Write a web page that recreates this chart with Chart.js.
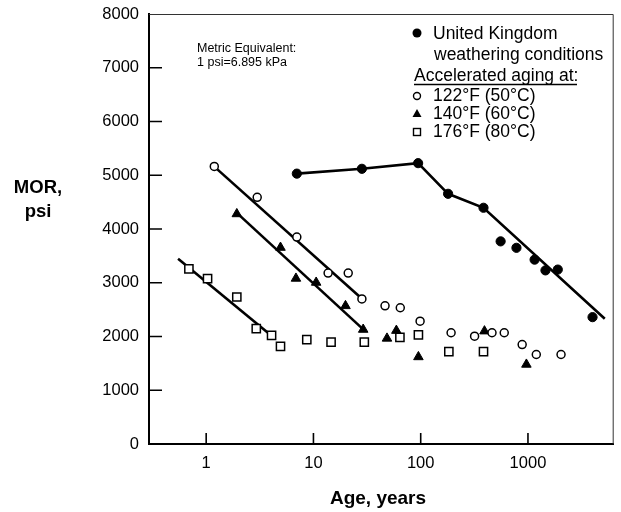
<!DOCTYPE html>
<html>
<head>
<meta charset="utf-8">
<script src="https://cdn.jsdelivr.net/npm/chart.js@4/dist/chart.umd.min.js"></script>
<style>
  html, body { margin: 0; padding: 0; background: #fff; }
  canvas { display: block; }
</style>
</head>
<body>
<canvas id="chart" width="621" height="512"></canvas>
<script>
const FONT = '"Liberation Sans", Arial, Helvetica, sans-serif';

// Axis ticks
const xTickValues = [1, 10, 100, 1000];
const yTickValues = [0, 1000, 2000, 3000, 4000, 5000, 6000, 7000, 8000];

// United Kingdom weathering conditions: age (years), MOR (psi)
const ukAge = [7.0, 28.3, 94.6, 180, 385, 556, 781, 1153, 1456, 1897, 4000];
const ukMor = [5030, 5120, 5225, 4655, 4395, 3770, 3650, 3430, 3230, 3245, 2360];

// Accelerated aging at 122°F (50°C)
const age122 = [1.19, 2.99, 7.0, 13.7, 21.1, 28.3, 46.5, 64.5, 98.7, 192, 318, 462, 601, 883, 1196, 2034];
const mor122 = [5165, 4590, 3850, 3180, 3180, 2700, 2570, 2535, 2285, 2070, 2005, 2070, 2070, 1850, 1665, 1665];

// Accelerated aging at 140°F (60°C)
const age140 = [1.93, 4.93, 6.87, 10.6, 19.9, 29.1, 48.5, 59.3, 95.2, 393, 967];
const mor140 = [4280, 3655, 3080, 3005, 2570, 2130, 1965, 2110, 1620, 2100, 1480];

// Accelerated aging at 176°F (80°C)
const age176 = [0.69, 1.03, 1.93, 2.93, 4.07, 4.93, 8.67, 14.6, 29.8, 64, 95.2, 183, 385];
const mor176 = [3260, 3075, 2735, 2145, 2020, 1815, 1940, 1895, 1895, 1985, 2030, 1720, 1720];

// Trend lines
const ukTrendAge = [7.0, 28.3, 94.6, 180, 385, 5200];
const ukTrendMor = [5030, 5120, 5225, 4655, 4395, 2330];
const fit122Age = [1.19, 27];
const fit122Mor = [5160, 2740];
const fit140Age = [1.93, 30];
const fit140Mor = [4300, 2110];
const fit176Age = [0.547, 4.4];
const fit176Mor = [3446, 1960];

const pts = (xs, ys) => xs.map((v, i) => ({ x: v, y: ys[i] }));

const markerBase = { showLine: false, borderColor: '#000', order: 0 };
const lineBase = { showLine: true, pointRadius: 0, borderColor: '#000', borderWidth: 2.6, fill: false, order: 1 };

// Framing, inward ticks, titles, note and key
const decor = {
  id: 'decor',
  afterDraw(chart) {
    const { ctx, chartArea: a, scales: { x, y } } = chart;
    ctx.save();
    ctx.fillStyle = '#000';

    // thin top and right frame
    ctx.lineWidth = 1;
    ctx.strokeStyle = '#333';
    ctx.beginPath();
    ctx.moveTo(a.left, a.top + 0.5);
    ctx.lineTo(a.right - 0.5, a.top + 0.5);
    ctx.lineTo(a.right - 0.5, a.bottom);
    ctx.stroke();

    // inward tick marks
    ctx.strokeStyle = '#000';
    ctx.lineWidth = 1.6;
    ctx.beginPath();
    yTickValues.forEach(v => {
      if (v <= 0 || v >= 8000) return;
      const py = y.getPixelForValue(v);
      ctx.moveTo(a.left, py);
      ctx.lineTo(a.left + 13, py);
    });
    xTickValues.forEach(v => {
      const px = x.getPixelForValue(v);
      ctx.moveTo(px, a.bottom);
      ctx.lineTo(px, a.bottom - 11);
    });
    ctx.stroke();

    // axis titles
    ctx.textAlign = 'center';
    ctx.textBaseline = 'middle';
    ctx.font = 'bold 18.5px ' + FONT;
    ctx.fillText('MOR,', 38, 188);
    ctx.fillText('psi', 38, 212);
    ctx.font = 'bold 19px ' + FONT;
    ctx.fillText('Age, years', 378, 499);

    // metric note
    ctx.textAlign = 'left';
    ctx.font = '12.5px ' + FONT;
    ctx.fillText('Metric Equivalent:', 197, 49);
    ctx.fillText('1 psi=6.895 kPa', 197, 63);

    // key
    const mx = 417, tx = 433;
    ctx.font = '17.5px ' + FONT;
    ctx.fillText('United Kingdom', tx, 34);
    ctx.fillText('weathering conditions', tx + 1, 55);
    ctx.fillText('Accelerated aging at:', 414, 76);
    ctx.fillText('122°F (50°C)', tx, 96);
    ctx.fillText('140°F (60°C)', tx, 114);
    ctx.fillText('176°F (80°C)', tx, 132);

    ctx.lineWidth = 1.5;
    ctx.beginPath();
    ctx.moveTo(414, 84.5);
    ctx.lineTo(577, 84.5);
    ctx.stroke();

    // key markers
    ctx.beginPath();
    ctx.arc(mx, 33, 4.5, 0, Math.PI * 2);
    ctx.fill();

    ctx.lineWidth = 1.4;
    ctx.beginPath();
    ctx.arc(mx, 96, 3.5, 0, Math.PI * 2);
    ctx.stroke();

    ctx.beginPath();
    ctx.moveTo(mx, 109);
    ctx.lineTo(mx + 4.5, 117);
    ctx.lineTo(mx - 4.5, 117);
    ctx.closePath();
    ctx.fill();

    ctx.strokeRect(mx - 3.5, 128.5, 7, 7);

    ctx.restore();
  }
};

new Chart(document.getElementById('chart'), {
  type: 'scatter',
  data: {
    datasets: [
      { ...markerBase, label: 'United Kingdom weathering conditions', data: pts(ukAge, ukMor),
        pointStyle: 'circle', pointRadius: 4.6, backgroundColor: '#000', borderWidth: 1 },
      { ...markerBase, label: '122°F (50°C)', data: pts(age122, mor122),
        pointStyle: 'circle', pointRadius: 4, backgroundColor: '#fff', borderWidth: 1.5 },
      { ...markerBase, label: '140°F (60°C)', data: pts(age140, mor140),
        pointStyle: 'triangle', pointRadius: 5.5, backgroundColor: '#000', borderWidth: 1 },
      { ...markerBase, label: '176°F (80°C)', data: pts(age176, mor176),
        pointStyle: 'rect', pointRadius: 5.8, backgroundColor: '#fff', borderWidth: 1.5 },
      { ...lineBase, label: 'UK trend', data: pts(ukTrendAge, ukTrendMor) },
      { ...lineBase, label: '122°F fit', data: pts(fit122Age, fit122Mor) },
      { ...lineBase, label: '140°F fit', data: pts(fit140Age, fit140Mor) },
      { ...lineBase, label: '176°F fit', data: pts(fit176Age, fit176Mor) }
    ]
  },
  options: {
    responsive: false,
    animation: false,
    events: [],
    layout: { padding: { left: 0, right: 1, top: 14, bottom: 0 } },
    plugins: { legend: { display: false }, tooltip: { enabled: false } },
    scales: {
      x: {
        type: 'logarithmic',
        min: 0.293,
        max: 6300,
        grid: { display: false },
        border: { display: true, color: '#000', width: 2 },
        afterBuildTicks: s => { s.ticks = xTickValues.map(v => ({ value: v })); },
        afterFit: s => { s.height = 68; s.paddingLeft = 0; s.paddingRight = 0; },
        ticks: {
          color: '#000',
          padding: 2,
          maxRotation: 0,
          font: { family: FONT, size: 16.5 },
          callback: v => String(v)
        }
      },
      y: {
        min: 0,
        max: 8000,
        grid: { display: false },
        border: { display: true, color: '#000', width: 2 },
        afterBuildTicks: s => { s.ticks = yTickValues.map(v => ({ value: v })); },
        afterFit: s => { s.width = 149; s.paddingTop = 0; s.paddingBottom = 0; },
        ticks: {
          color: '#000',
          padding: 2,
          font: { family: FONT, size: 16.5 },
          callback: v => String(v)
        }
      }
    }
  },
  plugins: [decor]
});
</script>
</body>
</html>
